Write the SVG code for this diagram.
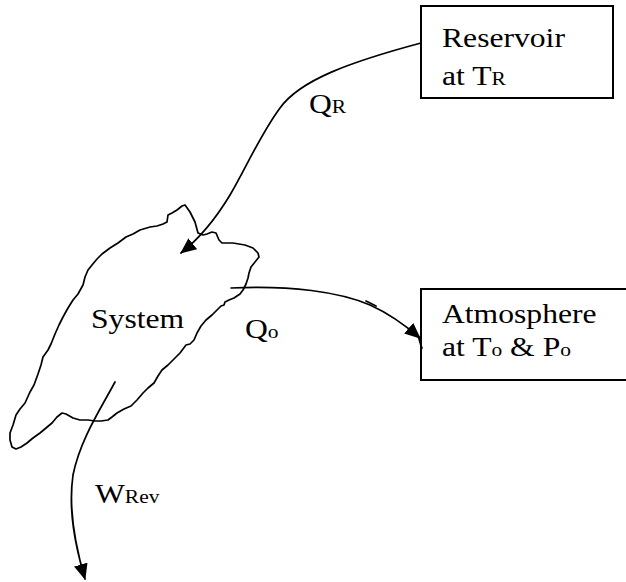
<svg xmlns="http://www.w3.org/2000/svg" width="626" height="582" viewBox="0 0 626 582">
<style>
.box{fill:#fff;stroke:#000;stroke-width:2}
.line{fill:none;stroke:#000;stroke-width:1.7;stroke-linejoin:round;stroke-linecap:round}
text{font-family:'Liberation Serif','DejaVu Serif',serif;font-size:28px;fill:#000}
.sub{font-size:19px}
</style>
<defs>
<marker id="ah" viewBox="0 0 16 14" refX="15" refY="7" markerWidth="16" markerHeight="14" markerUnits="userSpaceOnUse" orient="auto">
<path d="M0,0 L16,7 L0,14 Z" fill="#000"/>
</marker>
</defs>
<rect width="626" height="582" fill="#fff"/>
<g id="reservoir">
<rect class="box" x="421" y="6" width="192" height="92"/>
<text font-family="Liberation Serif, serif" transform="translate(442,47) scale(1.13,1)">Reservoir</text>
<text font-family="Liberation Serif, serif" transform="translate(442,85) scale(1.13,1)">at T<tspan class="sub">R</tspan></text>
</g>
<g id="atmosphere">
<rect class="box" x="421" y="289" width="220" height="91"/>
<text font-family="Liberation Serif, serif" transform="translate(442,323) scale(1.13,1)">Atmosphere</text>
<text font-family="Liberation Serif, serif" transform="translate(442,356) scale(1.13,1)">at T<tspan class="sub">o</tspan> &amp; P<tspan class="sub">o</tspan></text>
</g>
<g id="system">
<polyline class="line" points="185,205 190,212 195,222 198,233 203,235 207,234 212,232 216,233 219,240 222,243 233,243 245,245 253,248 258,253 259,257 255,262 251,267 249,273 248,278 246,284 243,290 240,294 234,298 229,300 225,302 224,305 221,306 218,309 212,315 206,320 201,326 197,333 194,340 190,344 186,345 183,349 180,353 174,359 168,365 162,370 158,376 154,383 148,388 143,393 137,400 131,406 124,409 117,413 112,417 108,420 101,421 95,421 88,420 80,420 73,418 66,414 62,413 57,417 52,423 46,428 40,433 33,438 27,443 21,447 16,449 12,447 10,440 10,433 13,425 16,415 20,409 25,403 30,392 34,385 38,374 41,365 43,357 48,350 51,344 55,334 59,325 63,317 68,308 73,300 78,294 83,285 85,277 88,270 92,265 97,259 102,254 110,248 118,243 126,237 133,234 140,230 150,227 157,226 163,224 167,222 168,215 172,213 177,210 182,206 185,205"/>
<text font-family="Liberation Serif, serif" transform="translate(91,328) scale(1.13,1)">System</text>
</g>
<g id="connectors">
<path class="line" d="M421,43 C350,62 300,80 280,108 C260,135 245,170 230,195 C218,215 200,238 181,253" marker-end="url(#ah)"/>
<path class="line" d="M231,288 C290,285 340,292 370,305 C390,314 405,325 420,338" marker-end="url(#ah)"/>
<path class="line" d="M366,301 L376,306"/>
<path class="line" d="M418,336 C420,340 420,345 422,348"/>
<path class="line" d="M115,382 C100,410 80,440 73,475 C68,510 75,545 85,579" marker-end="url(#ah)"/>
<text font-family="Liberation Serif, serif" transform="translate(309,113) scale(1.13,1)">Q<tspan class="sub">R</tspan></text>
<text font-family="Liberation Serif, serif" transform="translate(245,338) scale(1.13,1)">Q<tspan class="sub">o</tspan></text>
<text font-family="Liberation Serif, serif" transform="translate(95,503) scale(1.13,1)">W<tspan class="sub">Rev</tspan></text>
</g>
</svg>
